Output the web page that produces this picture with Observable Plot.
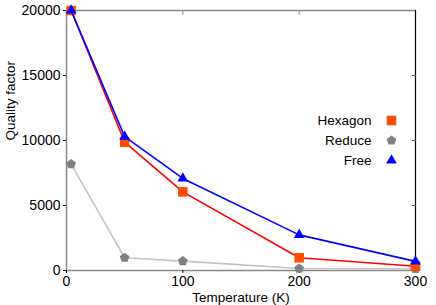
<!DOCTYPE html>
<html><head><meta charset="utf-8">
<script src="https://cdn.jsdelivr.net/npm/d3@7"></script>
<script src="https://cdn.jsdelivr.net/npm/@observablehq/plot@0.6"></script>
<style>body{margin:0;background:#fff;} svg{display:block;}</style>
</head><body><div id="chart"></div>
<script>
const temperature = [4, 50, 100, 200, 300];
const hexagon = [20000, 9870, 6050, 980, 330];
const reduce = [8180, 980, 720, 150, 130];
const free = [20000, 10300, 7080, 2740, 700];
const seriesNames = ["Hexagon", "Reduce", "Free"];
const xTicks = [0, 100, 200, 300];
const yTicks = [0, 5000, 10000, 15000, 20000];

const pentagon = {
  draw(ctx, size) {
    const r = Math.sqrt(size / 2.38);
    for (let i = 0; i < 5; i++) {
      const a = -Math.PI / 2 + i * 2 * Math.PI / 5;
      const px = r * Math.cos(a), py = r * Math.sin(a);
      if (i === 0) ctx.moveTo(px, py); else ctx.lineTo(px, py);
    }
    ctx.closePath();
  }
};

const styles = {
  Hexagon: {line: "#ff0000", fill: "#ff4d00", symbol: "square", r: 5.4},
  Reduce: {line: "#c4c4c4", fill: "#808080", symbol: pentagon, r: 4.4},
  Free: {line: "#0000ff", fill: "#0000ff", symbol: "triangle", r: 4.0}
};
const values = {Hexagon: hexagon, Reduce: reduce, Free: free};
const rows = s => temperature.map((t, i) => ({t, q: values[s][i], s}));
const fmt = d3.format("d");

const marks = [
  Plot.frame({stroke: "#888", strokeWidth: 1.5}),
  Plot.frame({anchor: "right", stroke: "#000"}),
  Plot.axisX(xTicks, {anchor: "bottom", tickSize: 3, fontSize: 14, label: null, tickPadding: 3, tickFormat: fmt}),
  Plot.axisX([100, 200], {anchor: "top", tickSize: -4, text: null, label: null, stroke: "#888"}),
  Plot.axisY(yTicks, {anchor: "left", tickSize: 3, fontSize: 14, label: null, tickPadding: 3, tickFormat: fmt}),
  Plot.axisY([5000, 10000, 15000], {anchor: "right", tickSize: -4, text: null, label: null, stroke: "#555"}),
];
for (const s of ["Reduce", "Hexagon", "Free"]) {
  const st = styles[s];
  marks.push(Plot.line(rows(s), {x: "t", y: "q", stroke: st.line, strokeWidth: 1.6}));
  marks.push(Plot.dot(rows(s), {x: "t", y: "q", fill: st.fill, symbol: () => st.symbol, r: st.r, stroke: "none"}));
}
seriesNames.forEach((s, i) => {
  const st = styles[s];
  marks.push(Plot.text([s], {frameAnchor: "top-right", dx: -44, dy: 110 + i * 20, textAnchor: "end", lineAnchor: "middle", fontSize: 13.5, fill: "#000"}));
  marks.push(Plot.dot([s], {frameAnchor: "top-right", dx: -24, dy: 110 + i * 20, fill: st.fill, symbol: () => st.symbol, r: st.r, stroke: "none"}));
});
marks.push(Plot.text(["Quality factor"], {frameAnchor: "left", rotate: -90, dx: -56, lineAnchor: "middle", fontSize: 13.5, fill: "#000"}));
marks.push(Plot.text(["Temperature (K)"], {frameAnchor: "bottom", dy: 27, lineAnchor: "middle", fontSize: 13.5, fill: "#000"}));

const chart = Plot.plot({
  width: 436, height: 305,
  marginLeft: 66, marginRight: 21, marginTop: 10, marginBottom: 35,
  style: {fontFamily: "'Liberation Sans', Arial, sans-serif", fontSize: "14px", color: "#000", background: "#fff"},
  x: {domain: [0, 300]},
  y: {domain: [0, 20000]},
  symbol: {type: "identity"},
  marks
});
document.getElementById("chart").appendChild(chart);
</script></body></html>
